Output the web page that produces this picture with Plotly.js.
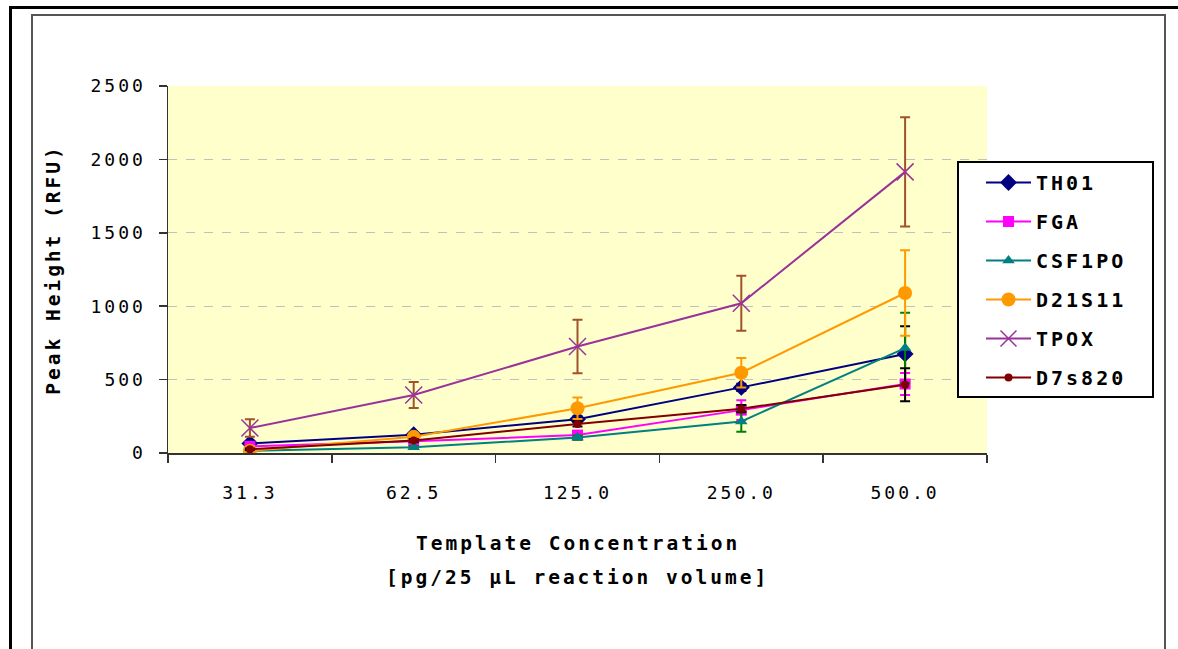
<!DOCTYPE html>
<html>
<head>
<meta charset="utf-8">
<script src="https://cdn.plot.ly/plotly-3.0.1.min.js"></script>
<style>
  html, body { margin: 0; padding: 0; background: #ffffff; }
  #wrap { position: relative; width: 1178px; height: 649px; overflow: hidden; }
  #chart { position: absolute; left: 0; top: 0; width: 1178px; height: 649px; }
  svg text { letter-spacing: 3px; }
  .frame { position: absolute; pointer-events: none; box-sizing: border-box; }
  #outer { left: 9px; top: 6px; width: 1200px; height: 700px; border-top: 3px solid #000; border-left: 3px solid #000; }
  #inner { left: 31px; top: 14px; width: 1135px; height: 700px; border: 2px solid #555; }
</style>
</head>
<body>
<div id="wrap">
  <div id="chart"></div>
  <div class="frame" id="outer"></div>
  <div class="frame" id="inner"></div>
</div>
<script>
// Template concentration levels (pg per 25 uL reaction)
const concentrations = ['31.3', '62.5', '125.0', '250.0', '500.0'];

// Mean peak heights (RFU) per locus
const th01    = [65, 125, 230, 447, 675];
const fga     = [45, 80, 122, 292, 470];
const csf1po  = [15, 40, 105, 215, 715];
const d21s11  = [15, 110, 305, 547, 1090];
const tpox    = [170, 395, 725, 1020, 1915];
const d7s820  = [25, 85, 198, 302, 465];

// Standard deviations (RFU)
const th01Err   = [8, 12, 20, 25, 188];
const fgaErr    = [6, 10, 18, 68, 75];
const csf1poErr = [4, 8, 15, 70, 240];
const d21s11Err = [6, 12, 73, 100, 291];
const tpoxErr   = [60, 88, 182, 188, 372];
const d7s820Err = [5, 10, 18, 25, 113];

function series(name, y, err, lineColor, errColor, symbol, size, group) {
  return {
    type: 'scatter',
    mode: 'lines+markers',
    name: name,
    legendgroup: group,
    x: concentrations,
    y: y,
    line: { color: lineColor, width: 2 },
    marker: { symbol: symbol, size: size, color: lineColor,
              line: { color: lineColor, width: symbol === 'x-thin-open' ? 1.5 : 0 } },
    error_y: { type: 'data', array: err, visible: true, color: errColor, thickness: 2, width: 5 }
  };
}

const traces = [
  series('TH01',   th01,   th01Err,   '#000080', '#000000', 'diamond',     13, 'g1'),
  series('FGA',    fga,    fgaErr,    '#FF00FF', '#FF00FF', 'square',      11, 'g2'),
  series('CSF1PO', csf1po, csf1poErr, '#008080', '#008000', 'triangle-up', 11, 'g3'),
  series('D21S11', d21s11, d21s11Err, '#FF9900', '#FF9900', 'circle',      14, 'g4'),
  series('TPOX',   tpox,   tpoxErr,   '#993399', '#A0522D', 'x-thin-open', 17, 'g5'),
  series('D7s820', d7s820, d7s820Err, '#800000', '#000000', 'circle',       8, 'g6')
];

const monoFont = 'DejaVu Sans Mono';
const titleFont = { family: monoFont, size: 19.5, weight: 'bold', color: '#000000' };

// legend box edges in pixels, converted to paper units of the plot area
const plotL = 168, plotR = 987, plotT = 86, plotB = 453;
const px = v => (v - plotL) / (plotR - plotL);
const py = v => (plotB - v) / (plotB - plotT);

const layout = {
  width: 1178,
  height: 649,
  margin: { l: plotL, r: 1178 - plotR, t: plotT, b: 649 - plotB },
  paper_bgcolor: 'rgba(0,0,0,0)',
  plot_bgcolor: '#FFFFCC',
  showlegend: true,
  font: { family: monoFont, color: '#000000', size: 18 },
  xaxis: {
    type: 'category',
    range: [-0.5, 4.5],
    tickson: 'boundaries',
    ticks: 'outside',
    ticklen: 8,
    tickwidth: 1.5,
    tickcolor: '#333333',
    showline: true,
    linecolor: '#333333',
    linewidth: 2,
    showgrid: false,
    zeroline: false,
    ticklabelstandoff: 22,
    tickfont: { family: monoFont, size: 18, color: '#000000' },
    fixedrange: true
  },
  yaxis: {
    range: [0, 2500],
    dtick: 500,
    ticks: 'outside',
    ticklen: 8,
    tickwidth: 1.5,
    tickcolor: '#333333',
    showline: true,
    linecolor: '#333333',
    linewidth: 1.5,
    showgrid: true,
    gridcolor: '#C0C0C0',
    griddash: 'dash',
    gridwidth: 1,
    zeroline: false,
    ticklabelstandoff: 9,
    tickfont: { family: monoFont, size: 18, color: '#000000' },
    title: { text: 'Peak Height (RFU)', font: titleFont, standoff: 24 },
    fixedrange: true
  },
  shapes: [
    { type: 'rect', xref: 'paper', yref: 'paper', layer: 'above',
      x0: px(958), x1: px(1153), y0: py(397), y1: py(162),
      fillcolor: '#FFFFFF', line: { color: '#000000', width: 2 } }
  ],
  legend: {
    x: px(981),
    y: py(163),
    xanchor: 'left',
    yanchor: 'top',
    bgcolor: 'rgba(0,0,0,0)',
    borderwidth: 0,
    traceorder: 'grouped',
    tracegroupgap: 10,
    itemwidth: 45,
    font: { family: monoFont, size: 20, weight: 'bold', color: '#000000' }
  },
  annotations: [
    { text: 'Template Concentration', xref: 'paper', yref: 'paper', x: 0.5, y: 0,
      xanchor: 'center', yanchor: 'middle', yshift: -90, showarrow: false, font: titleFont },
    { text: '[pg/25 μL reaction volume]', xref: 'paper', yref: 'paper', x: 0.5, y: 0,
      xanchor: 'center', yanchor: 'middle', yshift: -124, showarrow: false, font: titleFont }
  ]
};

Plotly.newPlot('chart', traces, layout, { displayModeBar: false, staticPlot: true });
</script>
</body>
</html>
